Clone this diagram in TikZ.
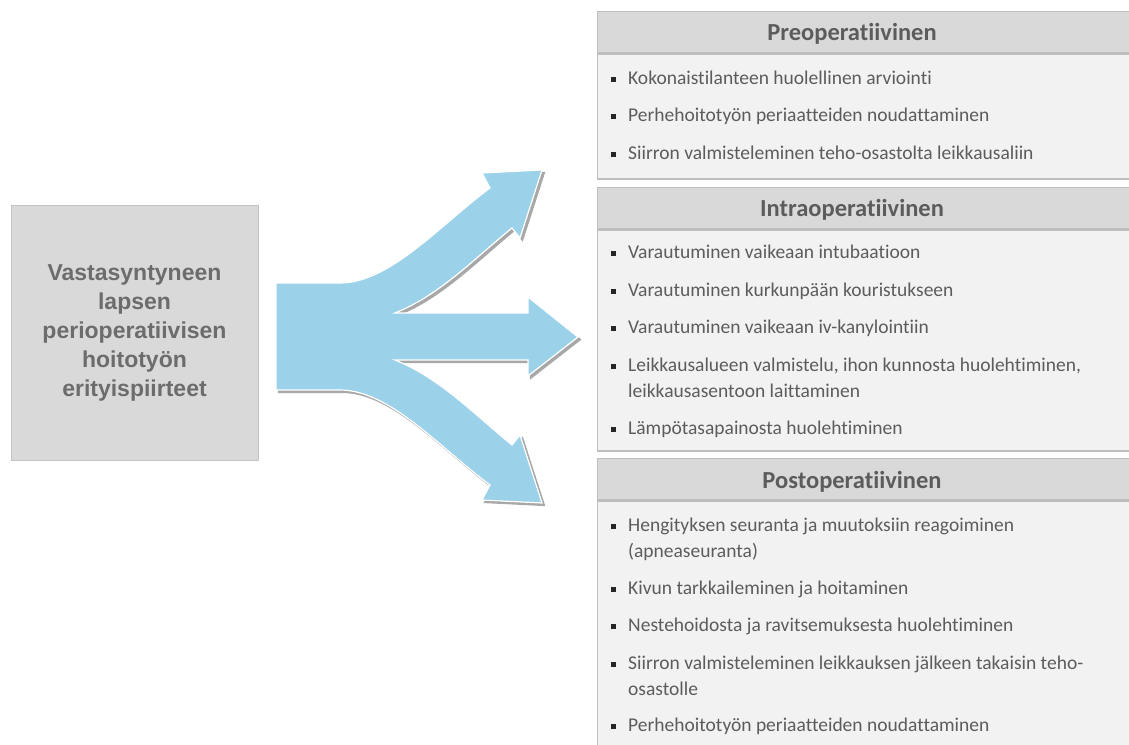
\documentclass[tikz,border=0pt]{standalone}
\usepackage{fontspec}
\setmainfont{Carlito}[Ligatures=NoCommon]
\newfontfamily\hubfont{Liberation Sans}
\usetikzlibrary{positioning}

\definecolor{arrowblue}{RGB}{155,210,234}
\definecolor{shadowgray}{RGB}{168,168,168}
\definecolor{hubfill}{RGB}{217,217,217}
\definecolor{hubedge}{RGB}{196,196,196}
\definecolor{hubtext}{RGB}{108,108,108}
\definecolor{headfill}{RGB}{217,217,217}
\definecolor{bodyfill}{RGB}{242,242,242}
\definecolor{frame}{RGB}{190,190,190}
\definecolor{itemtext}{RGB}{92,92,92}
\definecolor{bulletcol}{RGB}{38,38,38}

\newcommand{\sqbullet}{\llap{\textcolor{bulletcol}{\raisebox{2.8pt}{\rule{5pt}{5pt}}}\hspace{12.5pt}}}

\tikzset{
  hub/.style={draw=hubedge, fill=hubfill, line width=1pt, minimum width=247pt,
    minimum height=255pt, align=center, text=hubtext, inner sep=0pt,
    font=\hubfont\bfseries\fontsize{23}{29}\selectfont},
  phasehead/.style={draw=frame, fill=headfill, line width=1.3pt, anchor=north west,
    minimum width=545pt, minimum height=41pt, inner sep=0pt},
  phasebody/.style={draw=frame, fill=bodyfill, line width=1.3pt, anchor=north west,
    minimum width=545pt, inner sep=0pt},
  phasetitle/.style={anchor=base, text=itemtext, inner sep=0pt,
    font=\bfseries\fontsize{24.5}{28}\selectfont},
  item/.style={anchor=north west, align=left, text=itemtext, inner sep=0pt,
    font=\fontsize{19.5}{26}\selectfont},
}

\begin{document}
\begin{tikzpicture}[x=1pt, y=-1pt]
  \useasboundingbox (0,0) rectangle (1129,744);
  \clip (0,0) rectangle (1129,744);

  % left box
  \node[hub] (hub) at (134.5,332.5) {Vastasyntyneen\\lapsen\\perioperatiivisen\\hoitotyön\\erityispiirteet};

  % split arrow: shadow first, then the blue body with a white rim
  \foreach \off/\col/\rim in {2.5/shadowgray/shadowgray, 0/arrowblue/white}{
    \filldraw[fill=\col, draw=\rim, line width=1.2pt, shift={(\off,\off)}]
      (276,283) -- (340,283) .. controls (390,283) and (440,225) .. (490,188)
      -- (482,173) -- (542,170) -- (520,238) -- (512,228)
      .. controls (475,258) and (440,295) .. (395,313)
      -- (528,313) -- (528,297) -- (578,337) -- (528,376) -- (528,360) -- (395,360)
      .. controls (440,378) and (475,415) .. (512,445)
      -- (520,435) -- (542,503) -- (482,500) -- (490,485)
      .. controls (440,448) and (390,390) .. (340,390) -- (276,390) -- cycle;
  }

  % preoperative
  \node[phasehead] (preHead) at (597,11) {};
  \node[phasebody, minimum height=125pt] (preBody) at (preHead.south west) {};
  \node[phasetitle] (preTitle) at (852,40) {Preoperatiivinen};
  \node[item] (pre1) at (628,66) {\sqbullet\strut Kokonaistilanteen huolellinen arviointi};
  \node[item] (pre2) at (628,103) {\sqbullet\strut Perhehoitotyön periaatteiden noudattaminen};
  \node[item] (pre3) at (628,141) {\sqbullet\strut Siirron valmisteleminen teho-osastolta leikkausaliin};

  % intraoperative
  \node[phasehead] (intraHead) at (597,187) {};
  \node[phasebody, minimum height=221pt] (intraBody) at (intraHead.south west) {};
  \node[phasetitle] (intraTitle) at (852,216) {Intraoperatiivinen};
  \node[item] (intra1) at (628,240) {\sqbullet\strut Varautuminen vaikeaan intubaatioon};
  \node[item] (intra2) at (628,278) {\sqbullet\strut Varautuminen kurkunpään kouristukseen};
  \node[item] (intra3) at (628,315) {\sqbullet\strut Varautuminen vaikeaan iv-kanylointiin};
  \node[item] (intra4) at (628,353) {\sqbullet\strut Leikkausalueen valmistelu, ihon kunnosta huolehtiminen,\\\strut leikkausasentoon laittaminen};
  \node[item] (intra5) at (628,416) {\sqbullet\strut Lämpötasapainosta huolehtiminen};

  % postoperative
  \node[phasehead] (postHead) at (597,458) {};
  \node[phasebody, minimum height=260pt] (postBody) at (postHead.south west) {};
  \node[phasetitle] (postTitle) at (852,488) {Postoperatiivinen};
  \node[item] (post1) at (628,513) {\sqbullet\strut Hengityksen seuranta ja muutoksiin reagoiminen\\\strut (apneaseuranta)};
  \node[item] (post2) at (628,576) {\sqbullet\strut Kivun tarkkaileminen ja hoitaminen};
  \node[item] (post3) at (628,613) {\sqbullet\strut Nestehoidosta ja ravitsemuksesta huolehtiminen};
  \node[item] (post4) at (628,651) {\sqbullet\strut Siirron valmisteleminen leikkauksen jälkeen takaisin teho-\\\strut osastolle};
  \node[item] (post5) at (628,713) {\sqbullet\strut Perhehoitotyön periaatteiden noudattaminen};
\end{tikzpicture}
\end{document}
